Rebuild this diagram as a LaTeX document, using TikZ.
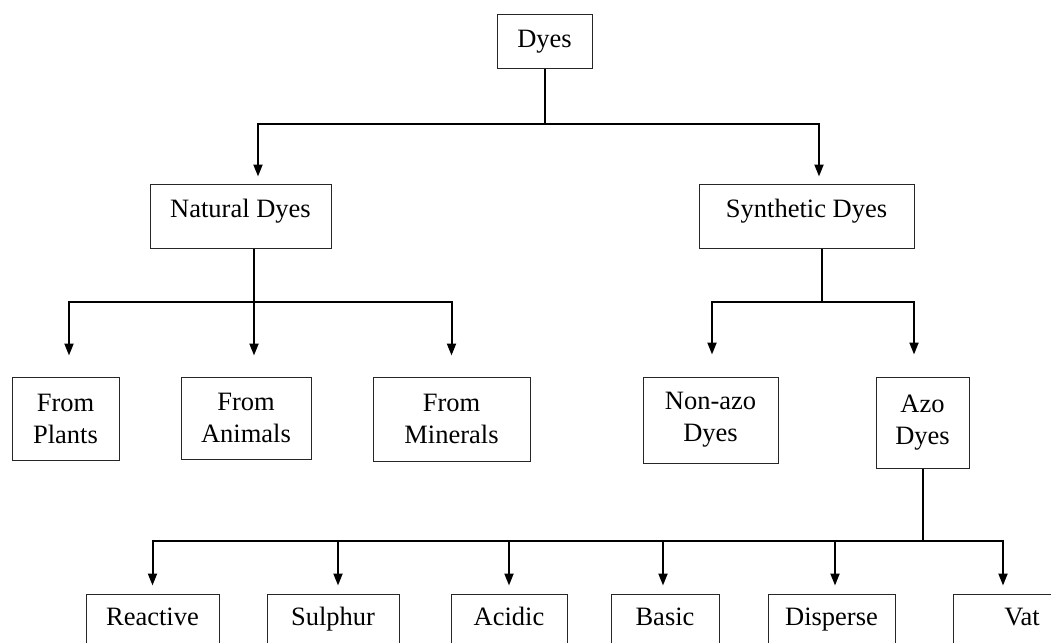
\documentclass[tikz,border=0pt]{standalone}
\usepackage{fontspec}
\setmainfont{Liberation Serif}
\usetikzlibrary{arrows.meta}

\begin{document}
\begin{tikzpicture}[x=1pt, y=-1pt, >={Triangle[length=12pt, width=9pt]},
  box/.style={draw=black!85, line width=1pt, inner sep=0pt, align=center,
              font=\fontsize{26.5}{32}\selectfont},
  mid/.style={box, minimum height=64pt, text height=18.6pt, text depth=16.6pt},
  leaf/.style={box, minimum height=64pt, text height=18.6pt, text depth=20.6pt},
  conn/.style={line width=2pt},
  arr/.style={conn, ->}]
\useasboundingbox (0,0) rectangle (1051,642);
\clip (0,0) rectangle (1051,642);

% --- root and first split
\node[box, minimum width=95pt, minimum height=53pt] (dyes) at (544.5,41.5) {Dyes};
\node[mid, minimum width=181pt] (natural) at (240.5,216) {Natural Dyes};
\node[mid, minimum width=215pt] (synthetic) at (806.5,216) {Synthetic Dyes};

% --- natural dyes
\node[box, minimum width=107pt, minimum height=83pt] (plants) at (65.5,418.5) {From\\Plants};
\node[box, minimum width=130pt, minimum height=82pt] (animals) at (246,418) {From\\Animals};
\node[box, minimum width=157pt, minimum height=84pt] (minerals) at (451.5,419) {From\\Minerals};

% --- synthetic dyes
\node[box, minimum width=135pt, minimum height=86pt] (nonazo) at (710.5,420) {Non-azo\\Dyes};
\node[box, minimum width=93pt, minimum height=91pt] (azo) at (922.5,422.5) {Azo\\Dyes};

% --- azo dyes
\node[leaf, minimum width=133pt] (reactive) at (152.5,626) {Reactive};
\node[leaf, minimum width=132pt] (sulphur) at (333,626) {Sulphur};
\node[leaf, minimum width=116pt] (acidic) at (509,626) {Acidic};
\node[leaf, minimum width=108pt] (basic) at (665,626) {Basic};
\node[leaf, minimum width=127pt] (disperse) at (831.5,626) {Disperse};
\node[leaf, minimum width=138pt] (vat) at (1022,626) {Vat};

% --- branch points
\coordinate (j0) at (545,124);
\coordinate (j1) at (254,302);
\coordinate (j2) at (822,302);
\coordinate (j3) at (923,541);

\draw[conn] (dyes.south -| j0) -- (j0);
\draw[arr, shorten >=7pt] (j0) -| ([xshift=17.5pt]natural.north);
\draw[arr, shorten >=7pt] (j0) -| ([xshift=12.5pt]synthetic.north);

\draw[conn] (natural.south -| j1) -- (j1);
\draw[arr, shorten >=21pt] (j1) -| ([xshift=3.5pt]plants.north);
\draw[arr, shorten >=21pt] (j1) -| ([xshift=8pt]animals.north);
\draw[arr, shorten >=21pt] (j1) -| (minerals.north);

\draw[conn] (synthetic.south -| j2) -- (j2);
\draw[arr, shorten >=22pt] (j2) -| ([xshift=1.5pt]nonazo.north);
\draw[arr, shorten >=22pt] (j2) -| ([xshift=-8.5pt]azo.north);

\draw[conn] (azo.south -| j3) -- (j3);
\foreach \n/\dx in {reactive/0, sulphur/5, acidic/0, basic/-2, disperse/3.5, vat/-19}
  \draw[arr, shorten >=8pt] (j3) -| ([xshift=\dx pt]\n.north);
\end{tikzpicture}
\end{document}
